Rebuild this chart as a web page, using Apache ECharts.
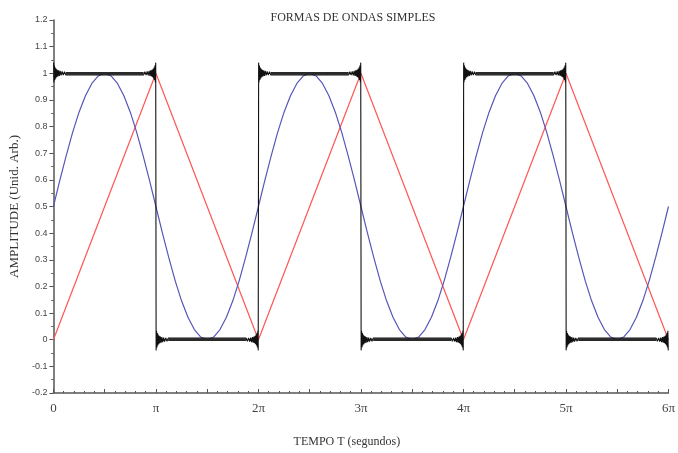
<!DOCTYPE html>
<html>
<head>
<meta charset="utf-8">
<script src="https://cdn.jsdelivr.net/npm/echarts@6/dist/echarts.min.js"></script>
<style>
html,body{margin:0;padding:0;background:#fff;}
#chart{width:678px;height:453px;}
</style>
</head>
<body>
<div id="chart"></div>
<script>
// x values are in units of pi
const xTickLabels = ['0', 'π', '2π', '3π', '4π', '5π', '6π'];

// Sine wave (blue), sampled every pi/16 from 0 to 6pi
const sineStep = 0.0625;
const sineValues = [
  0.5, 0.598, 0.691, 0.778, 0.854, 0.916, 0.962, 0.990, 1, 0.990, 0.962, 0.916, 0.854, 0.778, 0.691, 0.598,
  0.5, 0.402, 0.309, 0.222, 0.146, 0.084, 0.038, 0.010, 0, 0.010, 0.038, 0.084, 0.146, 0.222, 0.309, 0.402,
  0.5, 0.598, 0.691, 0.778, 0.854, 0.916, 0.962, 0.990, 1, 0.990, 0.962, 0.916, 0.854, 0.778, 0.691, 0.598,
  0.5, 0.402, 0.309, 0.222, 0.146, 0.084, 0.038, 0.010, 0, 0.010, 0.038, 0.084, 0.146, 0.222, 0.309, 0.402,
  0.5, 0.598, 0.691, 0.778, 0.854, 0.916, 0.962, 0.990, 1, 0.990, 0.962, 0.916, 0.854, 0.778, 0.691, 0.598,
  0.5, 0.402, 0.309, 0.222, 0.146, 0.084, 0.038, 0.010, 0, 0.010, 0.038, 0.084, 0.146, 0.222, 0.309, 0.402,
  0.5
];

// Triangle wave (red): vertices
const triX = [0, 1, 2, 3, 4, 5, 6];
const triValues = [0, 1, 0, 1, 0, 1, 0];

// Square wave (black): level on each pi-wide segment
const squareLevels = [1, 0, 1, 0, 1, 0];
// Gibbs ringing near each edge: distance from edge (pi units) and overshoot
const ringDist = [0.002, 0.006, 0.010, 0.014, 0.018, 0.022, 0.027, 0.032, 0.038, 0.044, 0.051, 0.058, 0.066, 0.075, 0.085, 0.096, 0.108, 0.120];
const ringAmp  = [0.040, -0.034, 0.029, -0.025, 0.022, -0.019, 0.017, -0.015, 0.013, -0.012, 0.011, -0.010, 0.009, -0.008, 0.007, -0.007, 0.006, -0.006];

const sineData = sineValues.map((v, i) => [i * sineStep, v]);
const triData = triValues.map((v, i) => [triX[i], v]);

const squareData = [];
const flatData = [];
squareLevels.forEach((L, i) => {
  const s = L === 1 ? 1 : -1;
  for (let k = 0; k < ringDist.length; k++) squareData.push([i + ringDist[k], L + s * ringAmp[k]]);
  for (let k = ringDist.length - 1; k >= 0; k--) squareData.push([i + 1 - ringDist[k], L + s * ringAmp[k]]);
  flatData.push([i + ringDist[ringDist.length - 1], L], [i + 1 - ringDist[ringDist.length - 1], L], [i + 1, null]);
});

const chart = echarts.init(document.getElementById('chart'), null, {renderer: 'canvas'});
const serif = 'Liberation Serif';
chart.setOption({
  animation: false,
  backgroundColor: '#ffffff',
  title: {
    text: 'FORMAS DE ONDAS SIMPLES',
    left: 348, top: 7, textAlign: 'center',
    textStyle: {fontFamily: serif, fontSize: 12, fontWeight: 'normal', color: '#333'}
  },
  grid: {left: 52, right: 6, top: 20, bottom: 56, containLabel: false},
  xAxis: {
    type: 'value', min: 0, max: 6, interval: 0.5,
    name: 'TEMPO T (segundos)', nameLocation: 'middle', nameGap: 43,
    nameTextStyle: {fontFamily: serif, fontSize: 12, color: '#333', padding: [0, 28, 0, 0]},
    axisLine: {show: true, onZero: false, lineStyle: {color: '#555', width: 1.5}},
    axisTick: {show: true, inside: true, length: 4, lineStyle: {color: '#555'}},
    minorTick: {show: true, splitNumber: 5, length: 2, lineStyle: {color: '#555'}},
    splitLine: {show: false},
    axisLabel: {
      margin: 9, fontFamily: serif, fontSize: 13, color: '#444',
      formatter: v => Number.isInteger(v) ? xTickLabels[v] : ''
    }
  },
  yAxis: {
    type: 'value', min: -0.2, max: 1.2, interval: 0.1,
    name: 'AMPLITUDE (Unid. Arb.)', nameLocation: 'middle', nameGap: 29, nameRotate: 90,
    nameTextStyle: {fontFamily: serif, fontSize: 13, color: '#333'},
    axisLine: {show: true, lineStyle: {color: '#555', width: 1.5}},
    axisTick: {show: true, length: 4, lineStyle: {color: '#555'}},
    minorTick: {show: true, splitNumber: 2, length: 2, lineStyle: {color: '#555'}},
    splitLine: {show: false},
    axisLabel: {
      margin: 6, fontFamily: 'Liberation Sans', fontSize: 9, color: '#444',
      formatter: v => String(+v.toFixed(2))
    }
  },
  series: [
    {type: 'line', data: triData, showSymbol: false, lineStyle: {color: '#ff5555', width: 1.2}, z: 2},
    {type: 'line', data: sineData, showSymbol: false, lineStyle: {color: '#5656b8', width: 1.2}, z: 3},
    {type: 'line', data: flatData, showSymbol: false, connectNulls: false, lineStyle: {color: '#2a2a2a', width: 2.6}, z: 4},
    {type: 'line', data: squareData, showSymbol: false, lineStyle: {color: '#111', width: 1.1}, z: 5}
  ]
});
</script>
</body>
</html>
